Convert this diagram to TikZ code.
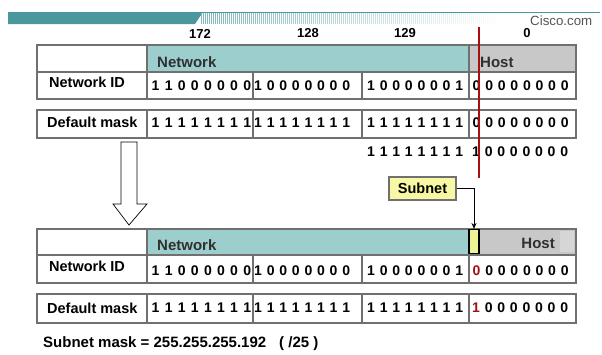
\documentclass[tikz,border=0pt]{standalone}
\usepackage{fontspec}
\setmainfont{Liberation Sans}
\usetikzlibrary{arrows.meta}
\definecolor{bannerteal}{HTML}{4A989E}
\definecolor{stripeteal}{HTML}{7FB8BB}
\definecolor{hdrteal}{HTML}{9CCECE}
\definecolor{hostgray}{HTML}{C8C8C8}
\definecolor{hostlight}{HTML}{D6D6D6}
\definecolor{tblline}{HTML}{707070}
\definecolor{redline}{HTML}{A81010}
\definecolor{bitred}{HTML}{A01010}
\definecolor{calloutyel}{HTML}{F8F8A4}
\definecolor{subyel}{HTML}{EEF394}
\definecolor{hdrtext}{HTML}{303030}
\definecolor{ciscogray}{HTML}{555555}
\newcommand\mybitfont{\fontsize{14}{16}\selectfont\bfseries\spaceskip=4.8pt\relax}
\newcommand\mywidebitfont{\fontsize{14}{16}\selectfont\bfseries\spaceskip=5.3pt\relax}
\begin{document}
\begin{tikzpicture}[x=1pt,y=-1pt,
  tbl/.style={draw=tblline,line width=1.8pt},
  lbl/.style={font=\fontsize{14.5}{17}\selectfont\bfseries,anchor=west,inner sep=0pt},
  hdr/.style={font=\fontsize{15}{17}\selectfont\bfseries,text=hdrtext,inner sep=0pt},
  bits/.style={font=\mybitfont,anchor=west,inner sep=0pt},
  widebits/.style={font=\mywidebitfont,anchor=west,inner sep=0pt},
  topnum/.style={font=\fontsize{13}{15}\selectfont\bfseries,inner sep=0pt}]
\useasboundingbox (0,0) rectangle (602,354);
\fill[white] (0,0) rectangle (602,354);

% ---- banner ----
\draw[bannerteal,line width=0.8pt] (8,12.4) -- (600,12.4);
\fill[bannerteal] (8,12) -- (203,12) -- (195,24) -- (8,24) -- cycle;
\foreach \i in {0,...,150} {
  \pgfmathsetmacro{\op}{1-\i/150}
  \draw[stripeteal,line width=0.9pt,opacity=\op] ({201+2*\i},13) -- ({201+2*\i},24);
}
\node[font=\fontsize{13.3}{15}\selectfont,text=ciscogray,anchor=base west,inner sep=0pt] (cisco) at (530,25) {Cisco.com};

% ---- top numbers ----
\node[topnum] (n172) at (200,33.5) {172};
\node[topnum] (n128) at (308,33.5) {128};
\node[topnum] (n129) at (405,33.5) {129};
\node[topnum] (n0) at (527,33.5) {0};

% ---- table 1 ----
\fill[white] (37,45) rectangle (147,72);
\fill[hdrteal] (147,45) rectangle (469,72);
\fill[hostgray] (469,45) rectangle (576,72);
\draw[tbl] (37,45) rectangle (576,99);
\draw[tbl] (37,72) -- (576,72);
\draw[tbl] (147,45) -- (147,99);
\draw[tbl] (469,45) -- (469,99);
\draw[tbl] (253,72) -- (253,99) (362,72) -- (362,99);
\draw[tbl] (37,110) rectangle (576,138);
\draw[tbl] (147,110) -- (147,138) (253,110) -- (253,138) (362,110) -- (362,138) (469,110) -- (469,138);

\node[hdr,anchor=west] (net1) at (157,62) {Network};
\node[hdr,anchor=west] (host1) at (480,62) {Host};
\node[lbl] (nid1) at (49,82) {Network ID};
\node[lbl] (dm1) at (47,122.5) {Default mask};
\node[widebits] (a1) at (151.5,86) {1 1 0 0 0 0 0 0};
\node[bits] (a2) at (254,86) {1 0 0 0 0 0 0 0};
\node[bits] (a3) at (367,86) {1 0 0 0 0 0 0 1};
\node[bits] (a4) at (472.5,86) {0 0 0 0 0 0 0 0};
\node[widebits] (b1) at (151.5,122.5) {1 1 1 1 1 1 1 1};
\node[bits] (b2) at (254,122.5) {1 1 1 1 1 1 1 1};
\node[bits] (b3) at (367,122.5) {1 1 1 1 1 1 1 1};
\node[bits] (b4) at (472.5,122.5) {0 0 0 0 0 0 0 0};
\node[bits] (c3) at (367,152) {1 1 1 1 1 1 1 1};
\node[bits] (c4) at (472,152) {1 0 0 0 0 0 0 0};

% ---- hollow arrow ----
\draw[black,line width=0.7pt,fill=white] (121,142) -- (137,142) -- (137,204) -- (147,204) -- (129,225) -- (113,204) -- (121,204) -- cycle;

% ---- table 2 ----
\fill[white] (37,229) rectangle (147,255);
\fill[hdrteal] (147,229) rectangle (469,255);
\fill[hostgray] (479,229) rectangle (576,255);
\fill[hostlight] (560,231) rectangle (574,252);
\draw[tbl] (37,229) rectangle (576,283);
\draw[tbl] (37,255) -- (576,255);
\draw[tbl] (147,229) -- (147,283);
\draw[tbl] (469,255) -- (469,283);
\draw[tbl] (253,255) -- (253,283) (362,255) -- (362,283);
\draw[tbl] (37,294) rectangle (576,323);
\draw[tbl] (147,294) -- (147,323) (253,294) -- (253,323) (362,294) -- (362,323) (469,294) -- (469,323);
\node[draw=black,line width=1.1pt,fill=subyel,minimum width=10pt,minimum height=24pt,inner sep=0pt] (subbox) at (474,241.5) {};

\node[hdr,anchor=west] (net2) at (157,245.5) {Network};
\node[hdr,anchor=east] (host2) at (555,243) {Host};
\node[lbl] (nid2) at (49,266) {Network ID};
\node[lbl] (dm2) at (47,308.5) {Default mask};
\node[widebits] (d1) at (151.5,270.5) {1 1 0 0 0 0 0 0};
\node[bits] (d2) at (254,270.5) {1 0 0 0 0 0 0 0};
\node[bits] (d3) at (367,270.5) {1 0 0 0 0 0 0 1};
\node[bits] (d4) at (472.5,270.5) {{\color{bitred}0} 0 0 0 0 0 0 0};
\node[widebits] (e1) at (151.5,308) {1 1 1 1 1 1 1 1};
\node[bits] (e2) at (254,308) {1 1 1 1 1 1 1 1};
\node[bits] (e3) at (367,308) {1 1 1 1 1 1 1 1};
\node[bits] (e4) at (472,308) {{\color{bitred}1} 0 0 0 0 0 0 0};

% ---- subnet callout ----
\node[draw=tblline,line width=1.1pt,fill=calloutyel,minimum width=67pt,minimum height=23pt,inner sep=0pt,font=\fontsize{14.5}{17}\selectfont\bfseries] (subnet) at (422.5,188.5) {Subnet};
\draw[black,line width=1pt,-{Stealth[length=6pt,width=5pt]}] (subnet.east) -| (subbox.north);

% ---- red divider line ----
\coordinate (rtop) at (479,27);
\coordinate (rbot) at (479,178);
\draw[redline,line width=1.8pt] (rtop) -- (rbot);

% ---- caption ----
\node[font=\fontsize{15}{17}\selectfont\bfseries,anchor=base west,inner sep=0pt] (mask) at (43,347) {Subnet mask = 255.255.255.192\hspace{13pt}( /25 )};
\end{tikzpicture}
\end{document}
